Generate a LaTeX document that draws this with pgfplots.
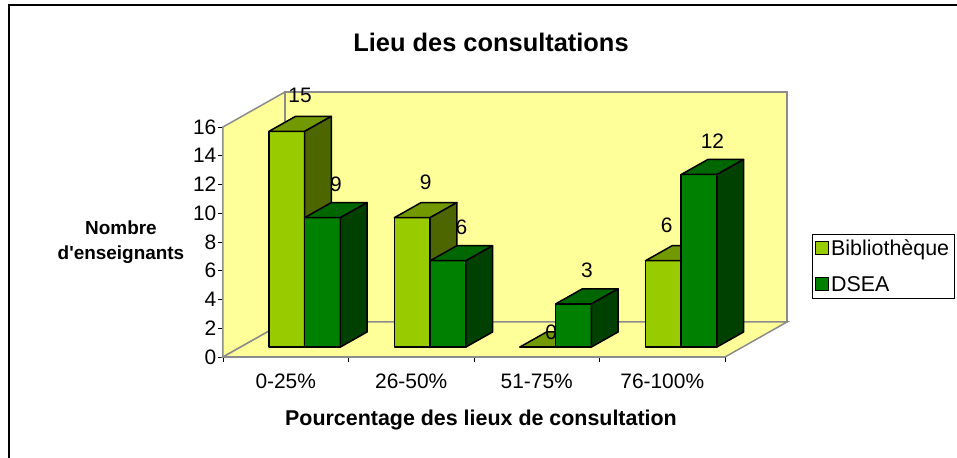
\documentclass[border=0pt]{standalone}
\usepackage{fontspec}
\setmainfont{Liberation Sans}
\usepackage{pgfplots}
\usepackage{pgfplotstable}
\pgfplotsset{compat=1.18}
\definecolor{wall}{HTML}{FFFF99}
\definecolor{wallline}{HTML}{8C8C8C}
\definecolor{bibF}{HTML}{99CC00}
\definecolor{bibT}{HTML}{739900}
\definecolor{bibS}{HTML}{4D6600}
\definecolor{dseF}{HTML}{008000}
\definecolor{dseT}{HTML}{006600}
\definecolor{dseS}{HTML}{004000}

\pgfplotstableread{
cat bib dsea
0 15 9
1 9 6
2 0 3
3 6 12
}\datatable

% one 3-D looking bar: #1 left x (before depth shift), #2 value, #3 front, #4 top, #5 side colour
\newcommand\threedbar[5]{%
 \pgfmathsetmacro\xl{#1+0.141}%
 \pgfmathsetmacro\xr{#1+0.426}%
 \pgfmathsetmacro\xlb{#1+0.353}%
 \pgfmathsetmacro\xrb{#1+0.638}%
 \pgfmathsetmacro\yt{#2+0.696}%
 \pgfmathsetmacro\ytb{#2+1.739}%
 \edef\temp{%
  \noexpand\addplot[fill=#3,draw=black,line width=1.5bp,line join=round,forget plot] coordinates {(\xl,0.696) (\xr,0.696) (\xr,\yt) (\xl,\yt)} -- cycle;
  \noexpand\addplot[fill=#4,draw=black,line width=1.5bp,line join=round,forget plot] coordinates {(\xl,\yt) (\xr,\yt) (\xrb,\ytb) (\xlb,\ytb)} -- cycle;
  \noexpand\addplot[fill=#5,draw=black,line width=1.5bp,line join=round,forget plot] coordinates {(\xr,0.696) (\xrb,1.739) (\xrb,\ytb) (\xr,\yt)} -- cycle;
 }\temp}

\begin{document}
\begin{tikzpicture}[x=1bp,y=1bp]
\useasboundingbox (-223,-101) rectangle (734,357);
\fill[white] (-223,-101) rectangle (734,357);
\draw[line width=1.5bp] (-214,-130) rectangle (770,352);
\node[font=\bfseries\fontsize{25.5}{30}\selectfont] at (268,315) {Lieu des consultations};
\node[font=\bfseries\fontsize{19}{25}\selectfont, align=center] at (-102,115) {Nombre\\d\textquotesingle enseignants};
\node[font=\bfseries\fontsize{21.5}{25}\selectfont] at (258,-63) {Pourcentage des lieux de consultation};
\begin{axis}[
 at={(0,0)}, anchor=south west,
 scale only axis, width=502bp, height=230bp,
 xmin=0, xmax=4, ymin=0, ymax=16,
 clip=false,
 axis lines*=left,
 axis line style={draw=wallline, line width=1.5bp},
 ytick={0,2,...,16},
 xtick={0,1,2,3,4},
 xticklabels={},
 extra x ticks={0.5,1.5,2.5,3.5},
 extra x tick labels={0-25\%,26-50\%,51-75\%,76-100\%},
 extra x tick style={major tick length=0pt, xticklabel style={yshift=-13bp}},
 tick align=outside,
 tick style={black, line width=0.9bp},
 major tick length=5bp,
 tick label style={font=\fontsize{21}{25}\selectfont},
 /pgf/number format/assume math mode=true,
 yticklabel style={inner sep=1.5bp},
 legend style={at={(1.1733,0.5348)}, anchor=north west, draw=black, line width=0.8bp,
   font=\fontsize{21.5}{25}\selectfont, inner sep=3bp, row sep=16bp},
 legend cell align=left,
 legend image code/.code={\draw[#1,draw=black,line width=0.8bp] (9bp,-6bp) rectangle (22bp,7bp);},
]
% walls and floor
\addplot[fill=wall, draw=wallline, line width=1.5bp, forget plot] coordinates {(0.494,2.435) (4.494,2.435) (4.494,18.435) (0.494,18.435)} -- cycle;
\addplot[fill=wall, draw=wallline, line width=1.5bp, forget plot] coordinates {(0,0) (0.494,2.435) (0.494,18.435) (0,16)} -- cycle;
\addplot[fill=wall, draw=wallline, line width=1.5bp, forget plot] coordinates {(0,0) (4,0) (4.494,2.435) (0.494,2.435)} -- cycle;
% bars
\foreach \i in {0,...,3} {
  \pgfplotstablegetelem{\i}{bib}\of\datatable
  \let\vb\pgfplotsretval
  \threedbar{\i+0.225}{\vb}{bibF}{bibT}{bibS}
}
\foreach \i in {0,...,3} {
  \pgfplotstablegetelem{\i}{dsea}\of\datatable
  \let\vd\pgfplotsretval
  \threedbar{\i+0.51}{\vd}{dseF}{dseT}{dseS}
}
% data labels
\addplot[forget plot, draw=none, mark=none, nodes near coords, point meta=explicit,
  nodes near coords style={font=\fontsize{21}{25}\selectfont, anchor=center, yshift=28bp}]
  table[x expr={\coordindex+0.6145-0.08*(\coordindex==3)}, y expr={\thisrow{bib}+1.217-1.43*(\thisrow{bib}==0)}, meta=bib] {\datatable};
\addplot[forget plot, draw=none, mark=none, nodes near coords, point meta=explicit,
  nodes near coords style={font=\fontsize{21}{25}\selectfont, anchor=center, yshift=26bp}]
  table[x expr=\coordindex+0.8995, y expr=\thisrow{dsea}+1.217, meta=dsea] {\datatable};
\addlegendimage{fill=bibF}\addlegendentry{Bibliothèque}
\addlegendimage{fill=dseF}\addlegendentry{DSEA}
\end{axis}
\end{tikzpicture}
\end{document}
